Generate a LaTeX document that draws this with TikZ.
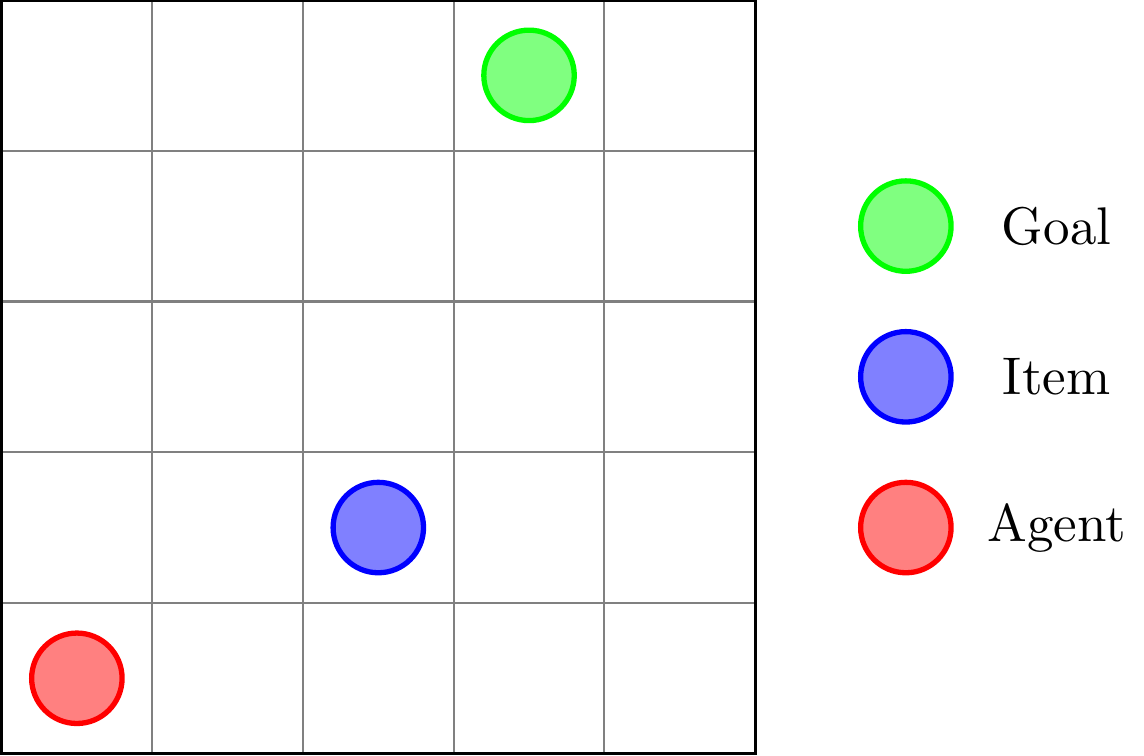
\documentclass[tikz,border=0pt]{standalone}
\usetikzlibrary{positioning}

\tikzset{
	token/.style={circle, line width=1pt, minimum size=0.6cm, inner sep=0pt},
	goaltok/.style={token, draw=green, fill=green!50},
	itemtok/.style={token, draw=blue, fill=blue!50},
	agenttok/.style={token, draw=red, fill=red!50},
}

\begin{document}
\begin{tikzpicture}
		\useasboundingbox (-0.01,-0.01) rectangle (7.58,5.0);
		
		% Gitter
		\draw[gray] (0,0) grid (5,5);
		\draw[semithick] (0,0) rectangle (5,5);
		
		% Objekte im Gitter
		\node[goaltok] (goal) at (3.5, 4.5) {};
		\node[itemtok] (item) at (2.5, 1.5) {};
		\node[agenttok] (agent) at (0.5, 0.5) {};
		
		% Legende
		\node[goaltok] (goalkey) at (6, 3.5) {};
		\node[itemtok] (itemkey) at (6, 2.5) {};
		\node[agenttok] (agentkey) at (6, 1.5) {};
		
		\node (goallbl) at (7, 3.5) {Goal};
		\node (itemlbl) at (7, 2.5) {Item};
		\node (agentlbl) at (7, 1.5) {Agent};
	\end{tikzpicture}
\end{document}
